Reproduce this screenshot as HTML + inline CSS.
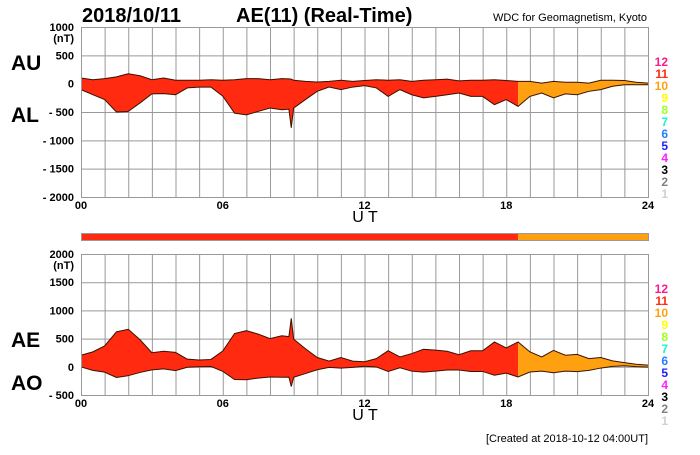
<!DOCTYPE html>
<html><head><meta charset="utf-8"><style>
body{margin:0;background:#fff;width:700px;height:450px;overflow:hidden}
svg{font-family:"Liberation Sans",sans-serif;font-weight:bold}
</style></head><body>
<svg id="c" width="700" height="450" viewBox="0 0 700 450"></svg>
<script>
const hours=[0,0.5,1,1.5,2,2.5,3,3.5,4,4.5,5,5.5,6,6.5,7,7.5,8,8.5,8.8,8.9,9,9.5,10,10.5,11,11.5,12,12.5,13,13.5,14,14.5,15,15.5,16,16.5,17,17.5,18,18.5,19,19.5,20,20.5,21,21.5,22,22.5,23,23.5,24];
const auValues=[100,70,90,120,175,140,70,100,60,60,60,70,60,70,90,90,70,90,85,80,60,40,30,40,60,40,55,70,60,70,40,60,70,80,50,60,60,70,55,40,40,10,40,25,25,10,60,60,55,25,10];
const alValues=[-105,-195,-280,-500,-490,-340,-180,-175,-195,-75,-60,-60,-220,-520,-550,-490,-430,-460,-450,-780,-430,-280,-135,-60,-105,-60,-35,-75,-225,-105,-195,-250,-225,-195,-165,-225,-225,-370,-280,-400,-225,-165,-250,-180,-195,-135,-105,-45,-20,-20,-20];
const colorChangeHour=18.5;
const upperTicks=[1000,500,0,-500,-1000,-1500,-2000];
const upperTickLabels=["1000","500","0","- 500","- 1000","- 1500","- 2000"];
const lowerTicks=[2000,1500,1000,500,0,-500];
const lowerTickLabels=["2000","1500","1000","500","0","- 500"];
const hourLabels=["00","06","12","18","24"];
const legendLevels=["12","11","10","9","8","7","6","5","4","3","2","1"];
const legendColors=["#ff1a8c","#ff2a10","#ffa010","#ffff00","#a0ff20","#20f0d0","#2080ff","#2020ff","#ff20ff","#000000","#808080","#d0d0d0"];

const NS="http://www.w3.org/2000/svg";
const svg=document.getElementById('c');
function el(tag,attrs,parent,text){const e=document.createElementNS(NS,tag);for(const k in attrs)e.setAttribute(k,attrs[k]);if(text!==undefined)e.textContent=text;(parent||svg).appendChild(e);return e;}
const X0=81,X1=648;
const xs=h=>X0+(X1-X0)*h/24;
function yScale(top,bottom,vmax,vmin){return v=>top+(vmax-v)*(bottom-top)/(vmax-vmin);}
const RED="#ff2a10",ORANGE="#ffa010";

function panel(name,top,bottom,vmax,vmin,ticks,labels,upper,lower,tag1,tag2,tagY1,tagY2){
  const y=yScale(top,bottom,vmax,vmin);
  const g=el('g',{},svg);
  
  
  const grid=el('g',{stroke:'#999','stroke-width':1},g);
  
  
  for(let h=0;h<=24;h++)el('line',{x1:xs(h)+0.5,x2:xs(h)+0.5,y1:top,y2:bottom},grid);
  ticks.forEach(t=>el('line',{x1:X0,x2:X1,y1:y(t)+0.5,y2:y(t)+0.5},grid));
  const pts=hours.map((h,i)=>xs(h)+','+y(upper[i])).concat(hours.map((h,i)=>xs(h)+','+y(lower[i])).reverse()).join(' ');
  const cid=name+'-clip';
  const defs=el('defs',{},g);
  el('clipPath',{id:cid+'a'},defs).appendChild(el('rect',{x:0,y:0,width:xs(colorChangeHour),height:450},defs));
  el('clipPath',{id:cid+'b'},defs).appendChild(el('rect',{x:xs(colorChangeHour),y:0,width:700,height:450},defs));
  const a=el('polygon',{points:pts,fill:RED,'clip-path':'url(#'+cid+'a)'},g);
  
  
  const b=el('polygon',{points:pts,fill:ORANGE,'clip-path':'url(#'+cid+'b)'},g);
  
  
  const l1=el('polyline',{points:hours.map((h,i)=>xs(h)+','+y(upper[i])).join(' '),fill:'none',stroke:'#3a1200','stroke-width':1},g);
  
  
  const l2=el('polyline',{points:hours.map((h,i)=>xs(h)+','+y(lower[i])).join(' '),fill:'none',stroke:'#3a1200','stroke-width':1},g);
  
  
  el('rect',{x:X0+0.5,y:top+0.5,width:X1-X0,height:bottom-top,fill:'none',stroke:'#999'},g);
  ticks.forEach((t,i)=>{const tx=el('text',{x:74,y:y(t)+4,'text-anchor':'end','font-size':11},g,labels[i]);
    
    });
  const nt=el('text',{x:74,y:top+15,'text-anchor':'end','font-size':11},g,'(nT)');
  
  
  hourLabels.forEach((s,i)=>{const tx=el('text',{x:xs(i*6),y:bottom+12,'text-anchor':'middle','font-size':11},g,s);
    
    });
  const ut=el('text',{x:365,y:bottom+25,'text-anchor':'middle','font-size':16,'font-weight':'normal'},g,'U T');
  
  
  const t1=el('text',{x:11,y:tagY1,'font-size':21},g,tag1);
  
  
  const t2=el('text',{x:11,y:tagY2,'font-size':21},g,tag2);
  
  
  legendLevels.forEach((s,i)=>{const tx=el('text',{x:668,y:top+39+i*12,'text-anchor':'end','font-size':12,fill:legendColors[i]},g,s);
    
    });
}
panel('upper-panel',27,197,1000,-2000,upperTicks,upperTickLabels,auValues,alValues,'AU','AL',70,122);
const aeValues=auValues.map((u,i)=>u-alValues[i]);
const aoValues=auValues.map((u,i)=>(u+alValues[i])/2);
panel('lower-panel',254,395,2000,-500,lowerTicks,lowerTickLabels,aeValues,aoValues,'AE','AO',347,390);

const bar=el('g',{},svg);


el('rect',{x:X0,y:234,width:xs(colorChangeHour)-X0,height:6,fill:RED},bar);
el('rect',{x:xs(colorChangeHour),y:234,width:X1-xs(colorChangeHour),height:6,fill:ORANGE},bar);
el('rect',{x:X0+0.5,y:233.5,width:X1-X0,height:7,fill:'none',stroke:'#999'},bar);

const d=el('text',{x:82,y:22,'font-size':20},svg,'2018/10/11');


const tt=el('text',{x:236,y:22,'font-size':20},svg,'AE(11) (Real-Time)');


const w=el('text',{x:647,y:21,'text-anchor':'end','font-size':11,'font-weight':'normal'},svg,'WDC for Geomagnetism, Kyoto');


const cr=el('text',{x:648,y:442,'text-anchor':'end','font-size':11,'font-weight':'normal'},svg,'[Created at 2018-10-12 04:00UT]');


</script>
</body></html>
